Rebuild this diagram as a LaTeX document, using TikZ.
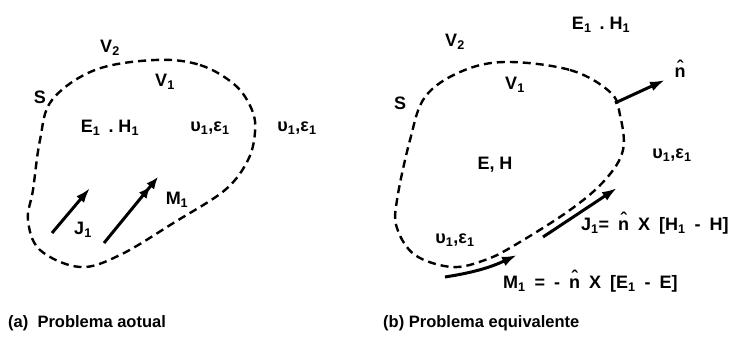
\documentclass[tikz,border=0pt]{standalone}
\usepackage{fontspec}
\setmainfont{Liberation Sans}
\usetikzlibrary{arrows.meta}
\newcommand{\sub}[1]{\textsubscript{#1}}
\newcommand{\nhat}{{\ooalign{n\cr\hidewidth\raisebox{0.5ex}{ˆ}\hidewidth\cr}}}
\tikzset{
  lbl/.style={font=\fontsize{18}{20}\selectfont\bfseries, inner sep=1pt},
  capt/.style={font=\fontsize{16.5}{18}\selectfont\bfseries, anchor=west, inner sep=0pt},
  surf/.style={line width=2.4pt, dash pattern=on 8pt off 5pt},
  curr/.style={line width=3pt, -{Latex[length=15pt, width=10pt]}},
}

\begin{document}
\begin{tikzpicture}[x=1pt, y=-1pt]
  \useasboundingbox (0,0) rectangle (736,348);

  % --- (a) actual problem ---
  \draw[surf] plot[smooth cycle, tension=0.6] coordinates {
    (155,60) (200,65) (235,85) (252,110) (255,132) (248,160) (225,190)
    (175,222) (120,255) (80,267) (40,250) (28,220) (33,190) (40,140)
    (52,100) (95,70)};
  \node[lbl] (v2a) at (110,48) {V\sub{2}};
  \node[lbl] (v1a) at (165,82) {V\sub{1}};
  \node[lbl] (sa) at (40,97) {S};
  \node[lbl] (eha) at (110,128) {E\sub{1}\,\ .\ H\sub{1}};
  \node[lbl] (mua) at (210,128) {υ\sub{1},ε\sub{1}};
  \node[lbl] (muao) at (297,128) {υ\sub{1},ε\sub{1}};

  \coordinate (ja-t) at (52,233);
  \coordinate (ja-h) at (90,188);
  \draw[curr] (ja-t) -- (ja-h);
  \node[lbl] (ja) at (83,230) {J\sub{1}};

  \coordinate (ma-t) at (104,243);
  \coordinate (ma-h) at (158,177);
  \draw[line width=3pt, -{Latex[length=12pt, width=10pt]Latex[length=12pt, width=10pt]}] (ma-t) -- (ma-h);
  \node[lbl] (ma) at (177,200) {M\sub{1}};

  \node[capt] (capa) at (8,323) {(a)\ \ Problema aotual};

  % --- (b) equivalent problem ---
  \draw[surf] plot[smooth cycle, tension=0.6] coordinates {
    (505,62) (570,70) (610,92) (620,115) (623,150) (605,180) (570,210)
    (515,245) (485,260) (452,267) (415,255) (397,228) (397,200) (410,140)
    (425,97) (460,72)};
  \node[lbl] (ehb) at (601,25) {E\sub{1}\,\ .\ H\sub{1}};
  \node[lbl] (v2b) at (455,42) {V\sub{2}};
  \node[lbl] (v1b) at (515,85) {V\sub{1}};
  \node[lbl] (sb) at (400,103) {S};
  \node[lbl] (ehin) at (495,165) {E, H};
  \node[lbl] (mubo) at (672,155) {υ\sub{1},ε\sub{1}};
  \node[lbl] (mub) at (455,240) {υ\sub{1},ε\sub{1}};

  \coordinate (nb-t) at (615,103);
  \coordinate (nb-h) at (665,80);
  \draw[curr] (nb-t) -- (nb-h);
  \node[lbl] (nb) at (680,73) {\nhat};

  \coordinate (jb-t) at (543,237);
  \coordinate (jb-h) at (617,188);
  \draw[curr] (jb-t) -- (jb-h);
  \node[lbl, anchor=west] (jb) at (580,226)
    {J\sub{1}=\enspace\nhat\enspace X\enspace[H\sub{1}\enspace-\enspace H]};

  \coordinate (mb-t) at (445,277);
  \coordinate (mb-h) at (517,255);
  \draw[curr] (mb-t) to[bend right=8] (mb-h);
  \node[lbl, anchor=west] (mb) at (502,284)
    {M\sub{1}\enspace=\enspace-\enspace\nhat\enspace X\enspace[E\sub{1}\enspace-\enspace E]};

  \node[capt] (capb) at (383,323) {(b) Problema equivalente};
\end{tikzpicture}
\end{document}
